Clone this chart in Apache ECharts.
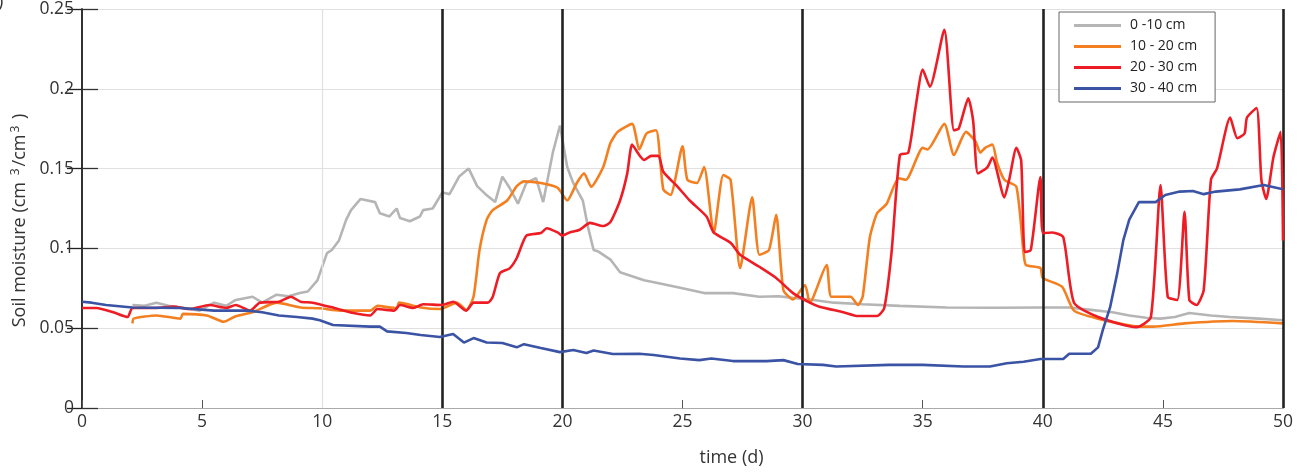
<!DOCTYPE html>
<html>
<head>
<meta charset="utf-8">
<script src="https://cdn.jsdelivr.net/npm/echarts@6/dist/echarts.min.js"></script>
<style>html,body{margin:0;padding:0;background:#fff;}#c{width:1297px;height:473px;}</style>
</head>
<body>
<div id="c"></div>
<script>
// ---- data (time in days, soil moisture in cm3/cm3) ----
const seriesNames = ['0 -10 cm', '10 - 20 cm', '20 - 30 cm', '30 - 40 cm'];
const xTicks = [0, 5, 10, 15, 20, 25, 30, 35, 40, 45, 50];
const yTicks = [0, 0.05, 0.1, 0.15, 0.2, 0.25];
const markerDays = [15, 20, 30, 40, 50];

const grayDays = [2.1, 2.6, 3.1, 3.6, 4.1, 4.9, 5.5, 6.0, 6.4, 7.1, 7.5, 8.1, 8.6, 9.07, 9.4, 9.8, 10.2, 10.4, 10.7, 11.0, 11.2, 11.6, 12.2, 12.4, 12.8, 13.1, 13.24, 13.65, 14.07, 14.2, 14.6, 15.0, 15.3, 15.7, 16.1, 16.45, 16.8, 17.2, 17.5, 17.8, 18.15, 18.5, 18.9, 19.2, 19.6, 19.9, 20.2, 20.45, 20.85, 21.07, 21.3, 21.5, 22.0, 22.4, 23.4, 24.06, 25.0, 25.9, 27.1, 28.2, 29.0, 29.6, 30.3, 31.3, 32.5, 34.05, 36.0, 38.0, 40.0, 41.1, 42.0, 42.9, 43.6, 44.3, 44.9, 45.5, 46.1, 47.0, 47.8, 49.0, 50.0];
const grayVals = [0.0645, 0.064, 0.066, 0.064, 0.063, 0.061, 0.066, 0.064, 0.0677, 0.0697, 0.066, 0.071, 0.070, 0.072, 0.073, 0.080, 0.097, 0.099, 0.105, 0.118, 0.124, 0.131, 0.129, 0.122, 0.120, 0.125, 0.119, 0.117, 0.120, 0.124, 0.125, 0.135, 0.134, 0.145, 0.150, 0.139, 0.134, 0.129, 0.145, 0.138, 0.128, 0.141, 0.144, 0.129, 0.160, 0.177, 0.151, 0.141, 0.130, 0.113, 0.099, 0.098, 0.093, 0.085, 0.080, 0.078, 0.075, 0.072, 0.072, 0.0697, 0.070, 0.069, 0.068, 0.066, 0.065, 0.064, 0.063, 0.0628, 0.063, 0.063, 0.0615, 0.060, 0.058, 0.0565, 0.056, 0.057, 0.0595, 0.058, 0.057, 0.056, 0.055];

const orangeDays = [2.1, 2.15, 3.1, 4.1, 4.2, 5.2, 5.9, 6.4, 7.1, 8.1, 9.1, 9.9, 10.75, 12.0, 12.3, 13.1, 13.2, 14.1, 14.9, 15.6, 16.0, 16.3, 16.55, 16.85, 17.1, 17.7, 18.1, 18.4, 19.1, 19.8, 20.2, 20.6, 20.9, 21.2, 21.7, 22.0, 22.3, 22.9, 23.2, 23.5, 23.9, 24.2, 24.5, 25.0, 25.2, 25.6, 25.9, 26.3, 26.7, 27.0, 27.4, 27.9, 28.2, 28.6, 28.9, 29.2, 29.6, 30.1, 30.3, 31.0, 31.2, 32.0, 32.3, 32.5, 32.8, 33.1, 33.5, 34.0, 34.3, 35.0, 35.2, 35.9, 36.3, 36.8, 37.2, 37.4, 37.6, 37.9, 38.1, 38.4, 38.9, 39.2, 39.3, 39.9, 40.0, 40.8, 41.3, 42.3, 44.0, 44.6, 45.9, 47.9, 50.0];
const orangeVals = [0.053, 0.056, 0.058, 0.056, 0.059, 0.058, 0.054, 0.0575, 0.060, 0.066, 0.063, 0.0625, 0.061, 0.061, 0.064, 0.0625, 0.066, 0.063, 0.062, 0.066, 0.0614, 0.0697, 0.099, 0.118, 0.124, 0.130, 0.139, 0.142, 0.141, 0.138, 0.130, 0.141, 0.147, 0.1386, 0.151, 0.166, 0.173, 0.178, 0.162, 0.172, 0.174, 0.137, 0.1335, 0.164, 0.143, 0.141, 0.151, 0.1096, 0.146, 0.143, 0.0877, 0.132, 0.096, 0.099, 0.121, 0.074, 0.068, 0.077, 0.066, 0.0896, 0.0697, 0.0697, 0.0645, 0.0697, 0.107, 0.122, 0.128, 0.144, 0.143, 0.163, 0.162, 0.178, 0.1585, 0.173, 0.167, 0.160, 0.163, 0.165, 0.1535, 0.143, 0.1386, 0.097, 0.0896, 0.0877, 0.0815, 0.076, 0.061, 0.056, 0.051, 0.051, 0.053, 0.0545, 0.053];

const redDays = [0, 0.6, 1.3, 1.9, 2.1, 3.1, 3.8, 4.5, 5.3, 6.0, 6.4, 7.0, 7.4, 8.2, 8.7, 9.1, 9.6, 10.5, 11.3, 12.0, 12.3, 13.0, 13.24, 13.8, 14.2, 15.0, 15.45, 16.0, 16.3, 16.9, 17.1, 17.4, 17.8, 18.1, 18.5, 19.1, 19.35, 19.8, 20.0, 20.3, 20.7, 21.15, 21.7, 22.0, 22.4, 22.7, 22.9, 23.2, 23.4, 23.7, 24.0, 24.2, 24.8, 25.3, 26.0, 26.3, 27.0, 27.4, 28.2, 28.9, 29.6, 30.3, 30.7, 31.7, 32.3, 33.1, 33.4, 33.7, 34.05, 34.4, 34.7, 35.0, 35.3, 35.9, 36.3, 36.5, 36.9, 37.1, 37.3, 37.7, 37.9, 38.4, 38.6, 38.9, 39.1, 39.25, 39.5, 39.9, 40.0, 40.4, 40.85, 41.3, 42.3, 43.9, 44.5, 44.9, 45.2, 45.6, 45.9, 46.1, 46.4, 46.7, 47.0, 47.25, 47.8, 48.1, 48.4, 48.5, 48.9, 49.1, 49.3, 49.6, 49.9, 50.0];
const redVals = [0.0627, 0.0627, 0.060, 0.057, 0.0627, 0.0627, 0.0635, 0.062, 0.0645, 0.0627, 0.0645, 0.061, 0.066, 0.0666, 0.0697, 0.0666, 0.066, 0.0627, 0.0595, 0.058, 0.062, 0.061, 0.0645, 0.0627, 0.065, 0.0645, 0.0666, 0.061, 0.066, 0.066, 0.0697, 0.0845, 0.0875, 0.094, 0.108, 0.1096, 0.1126, 0.110, 0.108, 0.110, 0.1115, 0.116, 0.114, 0.1165, 0.130, 0.147, 0.165, 0.1585, 0.1554, 0.158, 0.158, 0.148, 0.1386, 0.130, 0.120, 0.110, 0.1035, 0.096, 0.0885, 0.0815, 0.072, 0.066, 0.0635, 0.060, 0.0576, 0.0576, 0.0627, 0.097, 0.1585, 0.160, 0.188, 0.212, 0.2013, 0.237, 0.174, 0.175, 0.194, 0.180, 0.147, 0.151, 0.157, 0.132, 0.143, 0.163, 0.155, 0.0977, 0.099, 0.1447, 0.1096, 0.110, 0.107, 0.066, 0.057, 0.0507, 0.057, 0.1397, 0.0697, 0.0677, 0.123, 0.0677, 0.0645, 0.074, 0.143, 0.150, 0.182, 0.169, 0.172, 0.182, 0.188, 0.143, 0.131, 0.157, 0.173, 0.105];

const blueDays = [0, 0.4, 1.0, 2.1, 4.1, 5.5, 6.9, 7.5, 8.2, 8.95, 9.6, 9.9, 10.45, 12.0, 12.4, 12.7, 13.5, 14.1, 14.9, 15.45, 15.9, 16.3, 16.85, 17.5, 18.1, 18.4, 19.1, 19.9, 20.45, 21.0, 21.3, 22.1, 23.2, 23.8, 24.9, 25.7, 26.2, 27.1, 28.5, 29.2, 29.8, 30.85, 31.4, 33.6, 35.0, 36.7, 37.8, 38.5, 39.2, 39.9, 40.85, 41.1, 42.0, 42.3, 42.5, 42.8, 43.1, 43.35, 43.6, 44.0, 44.7, 45.1, 45.7, 46.25, 46.7, 47.2, 48.2, 49.2, 50.0];
const blueVals = [0.0666, 0.066, 0.0645, 0.063, 0.0627, 0.061, 0.061, 0.060, 0.058, 0.057, 0.056, 0.055, 0.052, 0.051, 0.051, 0.048, 0.047, 0.0457, 0.0445, 0.0464, 0.041, 0.0438, 0.041, 0.0407, 0.038, 0.040, 0.0376, 0.035, 0.0363, 0.0345, 0.036, 0.0338, 0.034, 0.0332, 0.031, 0.030, 0.031, 0.0294, 0.0294, 0.030, 0.0276, 0.027, 0.026, 0.027, 0.027, 0.026, 0.026, 0.028, 0.029, 0.0307, 0.0307, 0.034, 0.034, 0.038, 0.049, 0.063, 0.0845, 0.105, 0.118, 0.129, 0.129, 0.1335, 0.1356, 0.136, 0.134, 0.1356, 0.137, 0.1397, 0.137];

const colors = ['#b5b5b5', '#f47f20', '#ee1c24', '#3a53a4'];

function pairs(days, vals) { return days.map((d, i) => [d, vals[i]]); }

const FONT = '"Open Sans", "DejaVu Sans", sans-serif';
const chart = echarts.init(document.getElementById('c'), null, { renderer: 'canvas' });

const dataSets = [pairs(grayDays, grayVals), pairs(orangeDays, orangeVals), pairs(redDays, redVals), pairs(blueDays, blueVals)];

const series = dataSets.map((d, i) => ({
  name: seriesNames[i],
  type: 'line',
  data: d,
  showSymbol: false,
  symbol: 'none',
  smooth: (i === 1 || i === 2) ? 0.2 : false,
  lineStyle: { color: colors[i], width: 2.6 },
  itemStyle: { color: colors[i] },
  z: 3 + i,
  animation: false
}));

// light vertical grid line at 10 and black markers
series.push({
  name: 'markers',
  type: 'line',
  data: [],
  silent: true,
  animation: false,
  markLine: {
    silent: true,
    symbol: 'none',
    label: { show: false },
    animation: false,
    data: [
      { xAxis: 10, lineStyle: { color: '#e0e0e0', width: 1.2, type: 'solid' } }
    ].concat(markerDays.map(v => ({ xAxis: v, lineStyle: { color: '#222', width: 2.6, type: 'solid' } })))
  },
  z: 10
});

chart.setOption({
  backgroundColor: '#fff',
  animation: false,
  grid: { left: 82, right: 14, top: 9, bottom: 65, containLabel: false, outerBoundsMode: 'none' },
  legend: {
    data: seriesNames,
    orient: 'vertical',
    left: 1059,
    top: 12,
    padding: [3, 18, 3, 15],
    itemGap: 0,
    itemWidth: 47,
    itemHeight: 3,
    icon: 'rect',
    backgroundColor: '#fff',
    borderColor: '#666',
    borderWidth: 1,
    borderRadius: 0,
    textStyle: { fontFamily: FONT, fontSize: 14, color: '#222', lineHeight: 21, padding: [0, 0, 0, 4] }
  },
  xAxis: [{
    type: 'value', min: 0, max: 50, interval: 5,
    name: 'time (d)', nameLocation: 'middle', nameGap: 41,
    nameTextStyle: { fontFamily: FONT, fontSize: 18, color: '#333', padding: [0, 0, 0, 98] },
    axisLine: { show: true, lineStyle: { color: '#555', width: 1.2 } },
    axisTick: { show: true, inside: true, length: 8, lineStyle: { color: '#555' } },
    axisLabel: { fontFamily: FONT, fontSize: 17.5, color: '#333', margin: 5, formatter: v => String(v) },
    splitLine: { show: false }
  }, {
    type: 'value', min: 0, max: 50, position: 'top',
    axisLine: { show: true, lineStyle: { color: '#aaa', width: 1 } },
    axisTick: { show: false }, axisLabel: { show: false }, splitLine: { show: false }
  }],
  yAxis: [{
    type: 'value', min: 0, max: 0.25, interval: 0.05,
    name: 'Soil moisture (cm {sup|3}/cm{sup|3} )', nameLocation: 'middle', nameGap: 50,
    nameTextStyle: {
      fontFamily: FONT, fontSize: 18, color: '#333', padding: [0, 24, 0, 0],
      rich: { sup: { fontFamily: FONT, fontSize: 12, color: '#333', verticalAlign: 'top', padding: [0, 2, 8, 2] } }
    },
    axisLine: { show: true, lineStyle: { color: '#333', width: 1.5 } },
    axisTick: { show: true, inside: true, length: 16, lineStyle: { color: '#333', width: 1.3 } },
    axisLabel: { fontFamily: FONT, fontSize: 17.5, color: '#333', margin: 8, formatter: v => String(+v.toFixed(2)) },
    splitLine: { show: true, lineStyle: { color: '#e0e0e0', width: 1.2 } }
  }, {
    type: 'value', min: 0, max: 0.25, interval: 0.05, position: 'right',
    axisLine: { show: true, lineStyle: { color: '#222', width: 1.5 } },
    axisTick: { show: true, inside: true, length: 15, lineStyle: { color: '#222', width: 1.3 } },
    axisLabel: { show: false }, splitLine: { show: false }
  }],
  graphic: [{
    type: 'text', left: -2, top: -7,
    style: { text: ')', font: '18px ' + FONT, fill: '#333' }
  }],
  series: series
});
</script>
</body>
</html>
